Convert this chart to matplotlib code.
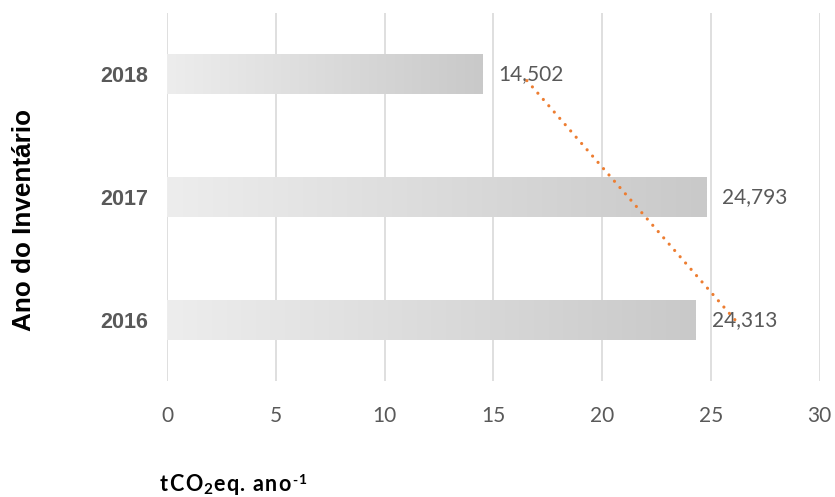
import numpy as np
import matplotlib
matplotlib.use("Agg")
import matplotlib.pyplot as plt
from matplotlib.colors import LinearSegmentedColormap

# Emissions per inventory year (tCO2eq per year)
years = ["2016", "2017", "2018"]
emissions = [24.313, 24.793, 14.502]
x_ticks = [0, 5, 10, 15, 20, 25, 30]

W, H = 835, 497
fig = plt.figure(figsize=(W / 100, H / 100), dpi=100)
ax = fig.add_axes([167 / W, 1 - 381 / H, (819.5 - 167) / W, (381 - 13) / H])

pos = np.arange(len(years))
bar_h = 0.325
grad = LinearSegmentedColormap.from_list("bar_grad", ["#ededed", "#c9c9c9"])
ramp = np.linspace(0, 1, 256).reshape(1, -1)

bars = ax.barh(pos, emissions, height=bar_h, color="none", edgecolor="none", zorder=2)
for rect in bars:
    x0, y0 = rect.get_x(), rect.get_y()
    w, h = rect.get_width(), rect.get_height()
    ax.imshow(ramp, cmap=grad, aspect="auto", extent=(x0, x0 + w, y0, y0 + h),
              zorder=2, interpolation="bilinear")

# value labels with decimal comma
for p, v in zip(pos, emissions):
    ax.annotate(f"{v:.3f}".replace(".", ","), (v, p), xytext=(11.5, 0),
                textcoords="offset points", va="center", ha="left",
                fontsize=15, color="#595959", family="Lato")

# linear trend fitted over the category sequence
coef = np.polyfit(pos, emissions, 1)
trend = np.polyval(coef, pos)
ax.plot(trend, pos, color="#ed7d31", lw=2.3, linestyle=(0, (0.01, 2.6)),
        dash_capstyle="round", zorder=4)

ax.set_xlim(0, 30)
ax.set_ylim(-0.5, len(years) - 0.5)
ax.set_xticks(x_ticks)
ax.set_xticklabels([str(t) for t in x_ticks], fontsize=15, color="#595959", family="Lato")
ax.set_yticks(pos)
ax.set_yticklabels(years, fontsize=15.5, fontweight="bold", color="#595959",
                   family="Liberation Sans")
ax.tick_params(axis="x", length=0, pad=18)
ax.tick_params(axis="y", length=0, pad=13.5)
ax.grid(axis="x", color="#d9d9d9", lw=1.2, zorder=0)
ax.set_axisbelow(True)
for s in ax.spines.values():
    s.set_visible(False)

fig.text(24.5 / W, 1 - 220 / H, "Ano do Inventário", rotation=90, ha="center", va="center",
         fontsize=18.8, fontweight="bold", family="Liberation Sans", color="black")

# unit label built from pieces: normal, subscript, normal, superscript
pieces = [("tCO", 15.5, 0), ("2", 11, -3.5), ("eq. ano", 15.5, 0), ("-1", 10, 6.5)]
renderer = fig.canvas.get_renderer()
x_px = 160.0
base_px = H - 491.0
tracking = 1.2
for txt, size, dy in pieces:
    for ch in txt:
        t = fig.text(0, 0, ch, fontsize=size, fontweight="bold", family="Lato",
                     color="black", ha="left", va="baseline", transform=None)
        t.set_position((x_px, base_px + dy))
        if ch == " ":
            x_px += size * 0.27 * 100 / 72 + tracking
        else:
            x_px += t.get_window_extent(renderer).width + tracking

fig.savefig("out.png", dpi=100)
